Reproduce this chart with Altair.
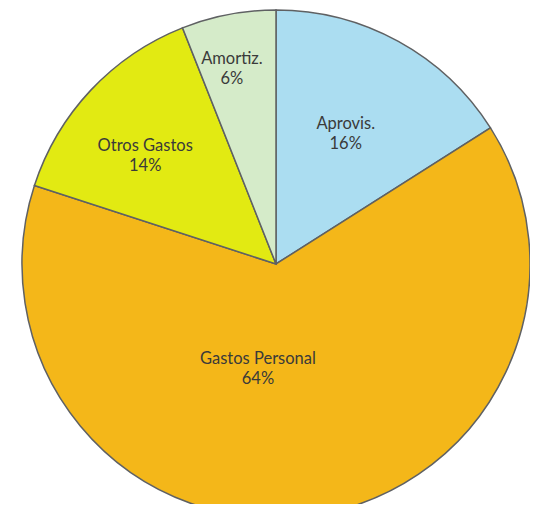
import altair as alt
import pandas as pd

categories = ["Aprovis.", "Gastos Personal", "Otros Gastos", "Amortiz."]
values = [16, 64, 14, 6]
colors = ["#ABDDF1", "#F4B719", "#E2EA12", "#D5EBC9"]

# label placement (angle in degrees clockwise from 12 o'clock, distance from centre in px)
label_angle = [27.9, 189.9, 310.1, 347.4]
label_dist = [149, 105, 171, 202]

df = pd.DataFrame({
    "cat": categories,
    "val": values,
    "order": list(range(len(categories))),
    "label": [f"{c}\n{v}%" for c, v in zip(categories, values)],
    "la": [a * 3.141592653589793 / 180 for a in label_angle],
    "lr": label_dist,
})

cx, cy, R = 268, 256, 254

base = alt.Chart(df)

pie = base.mark_arc(stroke="#5f6163", strokeWidth=1.5, outerRadius=R).encode(
    theta=alt.Theta("val:Q", stack=True),
    color=alt.Color("cat:N", scale=alt.Scale(domain=categories, range=colors), legend=None),
    order=alt.Order("order:Q"),
    x=alt.value(cx),
    y=alt.value(cy),
)

labels = base.mark_text(
    font="Lato", fontSize=16.5, color="#3a3a3a", lineBreak="\n", lineHeight=20,
    baseline="middle", align="center", dy=-8,
).encode(
    theta=alt.Theta("la:Q", scale=None, stack=None),
    radius=alt.Radius("lr:Q", scale=None),
    text="label:N",
    x=alt.value(cx),
    y=alt.value(cy),
)

chart = alt.layer(pie, labels).properties(
    width=522, height=496, padding=0, autosize=alt.AutoSizeParams(type="none")
).configure_view(stroke=None)

chart.save("out.html", embed_options={"renderer": "svg", "actions": False})
